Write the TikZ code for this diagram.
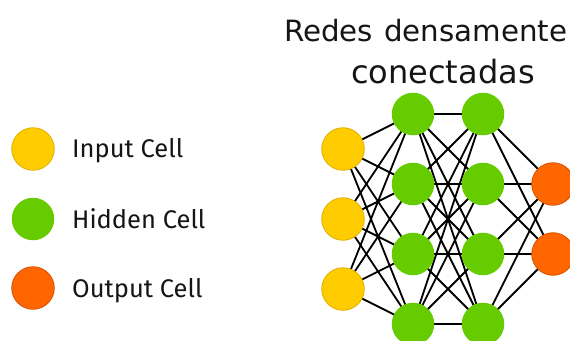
\documentclass[tikz,border=0pt]{standalone}
\usepackage{fontspec}
\setmainfont{DejaVu Sans}
\newfontfamily\legendfont{Fira Sans}
\usetikzlibrary{backgrounds}
\definecolor{inputfill}{HTML}{FFCC00}
\definecolor{inputedge}{HTML}{E3B300}
\definecolor{hiddenfill}{HTML}{66CC00}
\definecolor{outputfill}{HTML}{FF6600}
\definecolor{outputedge}{HTML}{D95400}
\definecolor{inktext}{HTML}{151515}
\begin{document}
\begin{tikzpicture}[x=1pt,y=-1pt,
  cell/.style={circle,minimum size=42.5pt,inner sep=0pt,line width=0.9pt},
  incell/.style={cell,fill=inputfill,draw=inputedge},
  hidcell/.style={cell,fill=hiddenfill},
  outcell/.style={cell,fill=outputfill,draw=outputedge},
  link/.style={line width=1.8pt,black},
  legendtext/.style={anchor=base west,inner sep=0pt,text=inktext,
    font=\legendfont\fontsize{25.5}{26}\selectfont},
  titletext/.style={anchor=base west,inner sep=0pt,text=inktext}]
\useasboundingbox (0,0) rectangle (570,340);
\clip (0,0) rectangle (570,340);

% legend
\node[incell]  (keyin)  at (33,149) {};
\node[hidcell] (keyhid) at (33,219) {};
\node[outcell] (keyout) at (33,288) {};
\node[legendtext] (keyintxt)  at (72,157) {Input Cell};
\node[legendtext] (keyhidtxt) at (72,228) {Hidden Cell};
\node[legendtext] (keyouttxt) at (72,297) {Output Cell};

% title
\node[titletext,font=\fontsize{29.3}{30}\selectfont] (title1) at (284,41) {Redes\hspace{11pt}densamente};
\node[titletext,font=\fontsize{32}{34}\selectfont] (title2) at (351,83) {conectadas};

% network cells
\foreach \i/\y in {1/149,2/219,3/289}
  \node[incell] (i\i) at (343,\y) {};
\foreach \i/\y in {1/114,2/184,3/254,4/324} {
  \node[hidcell] (a\i) at (413,\y) {};
  \node[hidcell] (b\i) at (483,\y) {};
}
\foreach \i/\y in {1/184,2/254}
  \node[outcell] (o\i) at (553,\y) {};

% fully connected links, kept under the cells
\begin{scope}[on background layer]
  \fill[white] (0,0) rectangle (570,340);
  \foreach \s in {1,2,3}
    \foreach \t in {1,2,3,4}
      \draw[link] (i\s.center) -- (a\t.center);
  \foreach \s in {1,2,3,4}
    \foreach \t in {1,2,3,4}
      \draw[link] (a\s.center) -- (b\t.center);
  \foreach \s in {1,2,3,4}
    \foreach \t in {1,2}
      \draw[link] (b\s.center) -- (o\t.center);
\end{scope}
\end{tikzpicture}
\end{document}
